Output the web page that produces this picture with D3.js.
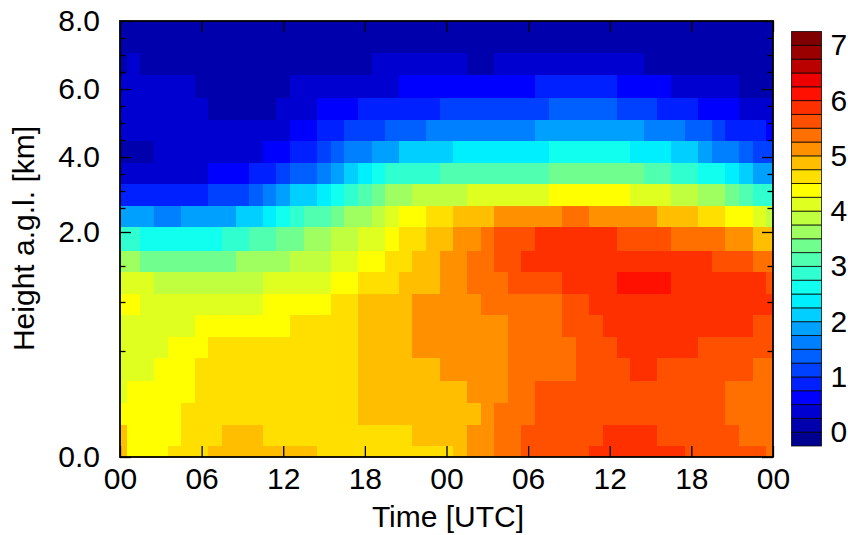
<!DOCTYPE html>
<html>
<head>
<meta charset="utf-8">
<script src="https://cdn.jsdelivr.net/npm/d3@7"></script>
<style>
  html, body { margin: 0; background: #fff; }
  svg { display: block; }
  text { font-family: "Liberation Sans", Arial, sans-serif; fill: #000; }
</style>
</head>
<body>
<svg id="chart" width="848" height="535"></svg>
<script>
// hour of each column, 2 days
const hours = d3.range(0, 49);
const hourTicks = [0, 6, 12, 18, 24, 30, 36, 42, 48];
const hourLabels = ["00", "06", "12", "18", "00", "06", "12", "18", "00"];

// height axis is stretched near the ground
const heightStops = [0, 0.5, 1, 1.5, 2, 2.5, 3, 3.5, 4, 4.5, 5, 5.5, 6, 6.5, 7, 7.5, 8];
const heightMajor = [0, 2, 4, 6, 8];
const heightMinor = [0.5, 1, 1.5, 2.5, 3, 3.5, 4.5, 5, 5.5, 6.5, 7, 7.5];

// edges of the height rows in km
const heightEdges = [0, 0.05, 0.15, 0.255, 0.36, 0.465, 0.64, 0.864, 1.115, 1.417, 1.725, 2.098, 2.568, 3.2, 3.83, 4.47, 5.1, 5.74, 6.41, 7.05, 8];

// top row first
const row19 = [0.1,0.1,0.1,0.1,0.1,0.1,0.1,0.1,0.1,0.1,0.1,0.1,0.1,0.1,0.1,0.1,0.1,0.1,0.1,0.1,0.1,0.1,0.1,0.1,0.1,0.1,0.1,0.1,0.1,0.1,0.1,0.1,0.1,0.1,0.1,0.1,0.1,0.1,0.1,0.1,0.1,0.1,0.1,0.1,0.1,0.1,0.1,0.1,0.1];
const row18 = [0.1,0.4,0.1,0.1,0.1,0.1,0.1,0.1,0.1,0.1,0.1,0.1,0.1,0.1,0.1,0.1,0.1,0.1,0.1,0.4,0.4,0.4,0.4,0.4,0.4,0.4,0.1,0.1,0.4,0.4,0.4,0.4,0.4,0.4,0.4,0.4,0.4,0.4,0.4,0.1,0.1,0.1,0.1,0.1,0.1,0.1,0.1,0.1,0.1];
const row17 = [0.4,0.4,0.4,0.4,0.4,0.4,0.1,0.1,0.1,0.1,0.1,0.1,0.1,0.4,0.4,0.4,0.4,0.4,0.4,0.4,0.4,0.6,0.6,0.6,0.6,0.6,0.6,0.6,0.6,0.6,0.6,0.9,0.9,0.9,0.9,0.9,0.9,0.6,0.6,0.6,0.6,0.4,0.4,0.4,0.4,0.4,0.1,0.1,0.1];
const row16 = [0.4,0.4,0.4,0.4,0.4,0.4,0.4,0.1,0.1,0.1,0.1,0.1,0.4,0.4,0.4,0.6,0.6,0.6,0.9,0.9,0.9,0.9,0.9,0.9,1.1,1.1,1.1,1.1,1.1,1.1,1.1,1.1,1.4,1.4,1.4,1.4,1.4,1.1,1.1,1.1,0.9,0.9,0.9,0.6,0.6,0.6,0.4,0.4,0.4];
const row15 = [0.4,0.4,0.4,0.4,0.4,0.4,0.4,0.4,0.4,0.4,0.4,0.4,0.4,0.6,0.6,0.9,0.9,1.1,1.1,1.1,1.4,1.4,1.4,1.6,1.6,1.6,1.6,1.6,1.6,1.6,1.6,1.9,1.9,1.9,1.9,1.9,1.9,1.9,1.9,1.6,1.6,1.6,1.4,1.4,1.1,0.9,0.9,0.9,0.6];
const row14 = [0.1,0.1,0.1,0.4,0.4,0.4,0.4,0.4,0.4,0.4,0.4,0.6,0.6,0.9,0.9,1.1,1.4,1.6,1.6,1.9,1.9,2.1,2.1,2.1,2.1,2.4,2.4,2.4,2.4,2.4,2.4,2.4,2.6,2.6,2.6,2.6,2.6,2.6,2.4,2.4,2.4,2.1,2.1,1.9,1.6,1.6,1.4,1.1,1.1];
const row13 = [0.4,0.4,0.4,0.4,0.4,0.4,0.4,0.6,0.6,0.6,0.9,0.9,1.1,1.4,1.4,1.6,1.9,2.1,2.4,2.6,2.9,2.9,2.9,2.9,3.1,3.1,3.1,3.1,3.1,3.1,3.1,3.1,3.4,3.4,3.4,3.4,3.4,3.4,3.4,3.1,3.1,2.9,2.9,2.6,2.6,2.4,2.1,1.9,1.9];
const row12 = [0.9,0.9,0.9,0.9,0.9,0.9,0.9,1.1,1.1,1.1,1.4,1.6,1.9,2.1,2.1,2.4,2.6,2.9,3.1,3.4,3.6,3.6,3.9,3.9,3.9,3.9,4.1,4.1,4.1,4.1,4.1,4.1,4.4,4.4,4.4,4.4,4.4,4.4,4.1,4.1,4.1,3.9,3.9,3.6,3.6,3.4,3.1,2.9,2.9];
const row11 = [1.9,1.9,1.9,1.6,1.6,1.9,1.9,1.9,1.9,2.1,2.1,2.4,2.6,2.9,3.1,3.1,3.4,3.6,3.6,3.9,4.1,4.4,4.4,4.6,4.6,4.9,4.9,4.9,5.1,5.1,5.1,5.1,5.1,5.4,5.4,5.1,5.1,5.1,5.1,5.1,4.9,4.9,4.9,4.6,4.6,4.4,4.4,4.1,3.9];
const row10 = [2.9,2.9,2.6,2.6,2.6,2.6,2.6,2.6,2.9,2.9,3.1,3.1,3.4,3.4,3.6,3.6,3.9,3.9,4.1,4.1,4.4,4.6,4.6,4.9,4.9,5.1,5.1,5.4,5.6,5.6,5.6,5.9,5.9,5.9,5.9,5.9,5.9,5.6,5.6,5.6,5.6,5.4,5.4,5.4,5.4,5.1,5.1,4.9,4.9];
const row09 = [3.6,3.6,3.4,3.4,3.4,3.4,3.4,3.4,3.4,3.6,3.6,3.6,3.6,3.9,3.9,3.9,4.1,4.1,4.4,4.4,4.6,4.6,4.9,4.9,5.1,5.1,5.4,5.4,5.6,5.6,5.9,5.9,5.9,5.9,5.9,5.9,5.9,5.9,5.9,5.9,5.9,5.9,5.9,5.9,5.6,5.6,5.6,5.4,5.4];
const row08 = [4.1,4.1,4.1,3.9,3.9,3.9,3.9,3.9,3.9,3.9,3.9,4.1,4.1,4.1,4.1,4.1,4.4,4.4,4.6,4.6,4.6,4.9,4.9,4.9,5.1,5.1,5.4,5.4,5.4,5.6,5.6,5.6,5.6,5.9,5.9,5.9,5.9,6.1,6.1,6.1,6.1,5.9,5.9,5.9,5.9,5.9,5.9,5.9,5.6];
const row07 = [4.4,4.4,4.1,4.1,4.1,4.1,4.1,4.1,4.1,4.1,4.1,4.4,4.4,4.4,4.4,4.4,4.6,4.6,4.9,4.9,4.9,4.9,5.1,5.1,5.1,5.1,5.1,5.4,5.4,5.4,5.4,5.4,5.4,5.6,5.6,5.9,5.9,5.9,5.9,5.9,5.9,5.9,5.9,5.9,5.9,5.9,5.9,5.9,5.9];
const row06 = [4.1,4.1,4.1,4.1,4.1,4.1,4.4,4.4,4.4,4.4,4.4,4.4,4.4,4.6,4.6,4.6,4.6,4.6,4.9,4.9,4.9,4.9,5.1,5.1,5.1,5.1,5.1,5.1,5.1,5.4,5.4,5.4,5.4,5.6,5.6,5.6,5.9,5.9,5.9,5.9,5.9,5.9,5.9,5.9,5.9,5.9,5.9,5.6,5.6];
const row05 = [4.1,4.1,4.1,4.1,4.4,4.4,4.4,4.6,4.6,4.6,4.6,4.6,4.6,4.6,4.6,4.6,4.6,4.6,4.9,4.9,4.9,4.9,5.1,5.1,5.1,5.1,5.1,5.1,5.1,5.4,5.4,5.4,5.4,5.4,5.6,5.6,5.6,5.9,5.9,5.9,5.9,5.9,5.9,5.6,5.6,5.6,5.6,5.6,5.6];
const row04 = [4.1,4.1,4.1,4.4,4.4,4.4,4.6,4.6,4.6,4.6,4.6,4.6,4.6,4.6,4.6,4.6,4.6,4.6,4.9,4.9,4.9,4.9,4.9,4.9,5.1,5.1,5.1,5.1,5.1,5.4,5.4,5.4,5.4,5.4,5.6,5.6,5.6,5.6,5.9,5.9,5.6,5.6,5.6,5.6,5.6,5.6,5.6,5.4,5.4];
const row03 = [4.1,4.4,4.4,4.4,4.4,4.4,4.6,4.6,4.6,4.6,4.6,4.6,4.6,4.6,4.6,4.6,4.6,4.6,4.9,4.9,4.9,4.9,4.9,4.9,4.9,4.9,5.1,5.1,5.1,5.4,5.4,5.6,5.6,5.6,5.6,5.6,5.6,5.6,5.6,5.6,5.6,5.6,5.6,5.6,5.6,5.4,5.4,5.4,5.4];
const row02 = [4.4,4.4,4.4,4.4,4.4,4.6,4.6,4.6,4.6,4.6,4.6,4.6,4.6,4.6,4.6,4.6,4.6,4.6,4.9,4.9,4.9,4.9,4.9,4.9,4.9,4.9,4.9,5.1,5.4,5.4,5.4,5.6,5.6,5.6,5.6,5.6,5.6,5.6,5.6,5.6,5.6,5.6,5.6,5.6,5.6,5.4,5.4,5.4,5.4];
const row01 = [4.9,4.4,4.4,4.4,4.4,4.6,4.6,4.6,4.9,4.9,4.9,4.6,4.6,4.6,4.6,4.6,4.6,4.6,4.6,4.6,4.6,4.6,4.9,4.9,4.9,4.9,5.1,5.1,5.4,5.4,5.6,5.6,5.6,5.6,5.6,5.6,5.9,5.9,5.9,5.9,5.6,5.6,5.6,5.6,5.6,5.6,5.4,5.4,5.4];
const row00 = [4.9,4.4,4.4,4.4,4.6,4.6,4.6,4.9,4.9,4.9,4.9,4.9,4.9,4.9,4.9,4.6,4.6,4.6,4.6,4.6,4.6,4.6,4.6,4.6,4.6,4.9,5.1,5.1,5.4,5.4,5.6,5.6,5.6,5.6,5.6,5.9,5.9,5.9,5.9,5.9,5.9,5.9,5.6,5.6,5.6,5.6,5.6,5.6,5.4];
const speedRows = [row00, row01, row02, row03, row04, row05, row06, row07, row08, row09, row10, row11, row12, row13, row14, row15, row16, row17, row18, row19];

// colour bar: 30 steps of 0.25, low to high
const barTicks = [0, 1, 2, 3, 4, 5, 6, 7];
const barColors = [
  "#000090", "#0000ad", "#0000d0", "#0000ff", "#0020ff", "#0040ff", "#0060ff", "#0080ff",
  "#00a0ff", "#00cfff", "#00efff", "#10ffef", "#30ffcf", "#50ffaf", "#70ff8f", "#9fff60",
  "#bfff40", "#dfff20", "#ffff00", "#ffdf00", "#ffbf00", "#ff9000", "#ff7000", "#ff5000",
  "#ff3000", "#ff1000", "#ee0000", "#bb0000", "#9b0000", "#800000"
];

const svg = d3.select("#chart");
const fontSize = 30;

const x = d3.scaleLinear().domain([0, 48]).range([120, 773]);
const y = d3.scaleLinear().domain(heightStops)
  .range([457, 351, 302, 266, 232, 208, 191, 174, 157, 140, 123, 106, 89, 72, 55, 38, 21]);
const color = d3.scaleQuantize().domain([-0.25, 7.25]).range(barColors);

// heatmap cells, first and last column are cut in half by the frame
speedRows.forEach((vals, r) => {
  svg.append("g").attr("shape-rendering", "crispEdges").selectAll("rect")
    .data(hours)
    .enter().append("rect")
    .attr("x", h => x(Math.max(0, h - 0.5)))
    .attr("y", y(heightEdges[r + 1]))
    .attr("width", h => x(Math.min(48, h + 0.5)) - x(Math.max(0, h - 0.5)))
    .attr("height", y(heightEdges[r]) - y(heightEdges[r + 1]))
    .attr("fill", h => color(vals[h]));
});

function cleanAxis(g) {
  g.select(".domain").remove();
  g.selectAll("line").attr("stroke", "#000").attr("stroke-width", 1.3);
}

// ticks point inwards on all four sides
svg.append("g").attr("transform", "translate(0,457)")
  .call(d3.axisBottom(x).tickValues(hourTicks).tickSize(-11).tickPadding(10.7)
    .tickFormat((d, i) => hourLabels[i]))
  .call(cleanAxis)
  .call(g => g.selectAll("text").attr("font-size", fontSize).attr("font-family", null));
svg.append("g").attr("transform", "translate(0,21)")
  .call(d3.axisTop(x).tickValues(hourTicks).tickSize(-11).tickFormat(""))
  .call(cleanAxis);

svg.append("g").attr("transform", "translate(120,0)")
  .call(d3.axisLeft(y).tickValues(heightMajor).tickSize(-11).tickPadding(20)
    .tickFormat(d3.format(".1f")))
  .call(cleanAxis)
  .call(g => g.selectAll("text").attr("font-size", fontSize).attr("font-family", null));
svg.append("g").attr("transform", "translate(120,0)")
  .call(d3.axisLeft(y).tickValues(heightMinor).tickSize(-5.5).tickFormat(""))
  .call(cleanAxis);
svg.append("g").attr("transform", "translate(773,0)")
  .call(d3.axisRight(y).tickValues(heightMajor).tickSize(-11).tickFormat(""))
  .call(cleanAxis);
svg.append("g").attr("transform", "translate(773,0)")
  .call(d3.axisRight(y).tickValues(heightMinor).tickSize(-5.5).tickFormat(""))
  .call(cleanAxis);

// frame
svg.append("rect")
  .attr("x", x(0)).attr("y", y(8))
  .attr("width", x(48) - x(0)).attr("height", y(0) - y(8))
  .attr("fill", "none").attr("stroke", "#000").attr("stroke-width", 1.8);

svg.append("text")
  .attr("x", 448).attr("y", 527)
  .attr("text-anchor", "middle").attr("font-size", fontSize)
  .text("Time [UTC]");
svg.append("text")
  .attr("transform", "translate(34,238.5) rotate(-90)")
  .attr("text-anchor", "middle").attr("font-size", fontSize)
  .text("Height a.g.l. [km]");

// colour bar
const bar = d3.scaleLinear().domain([-0.25, 7.25]).range([446, 31.5]);
svg.append("g").selectAll("rect")
  .data(barColors)
  .enter().append("rect")
  .attr("x", 791.5)
  .attr("y", (d, i) => bar(-0.25 + (i + 1) * 0.25))
  .attr("width", 30)
  .attr("height", (d, i) => bar(-0.25 + i * 0.25) - bar(-0.25 + (i + 1) * 0.25))
  .attr("fill", d => d)
  .attr("stroke", "#000").attr("stroke-opacity", 0.75).attr("stroke-width", 1);

svg.append("g").attr("transform", "translate(821,0)")
  .call(d3.axisRight(bar).tickValues(barTicks).tickSize(0).tickPadding(9.5).tickFormat(d3.format("d")))
  .call(g => g.select(".domain").remove())
  .call(g => g.selectAll("text").attr("font-size", fontSize).attr("font-family", null));
</script>
</body>
</html>
